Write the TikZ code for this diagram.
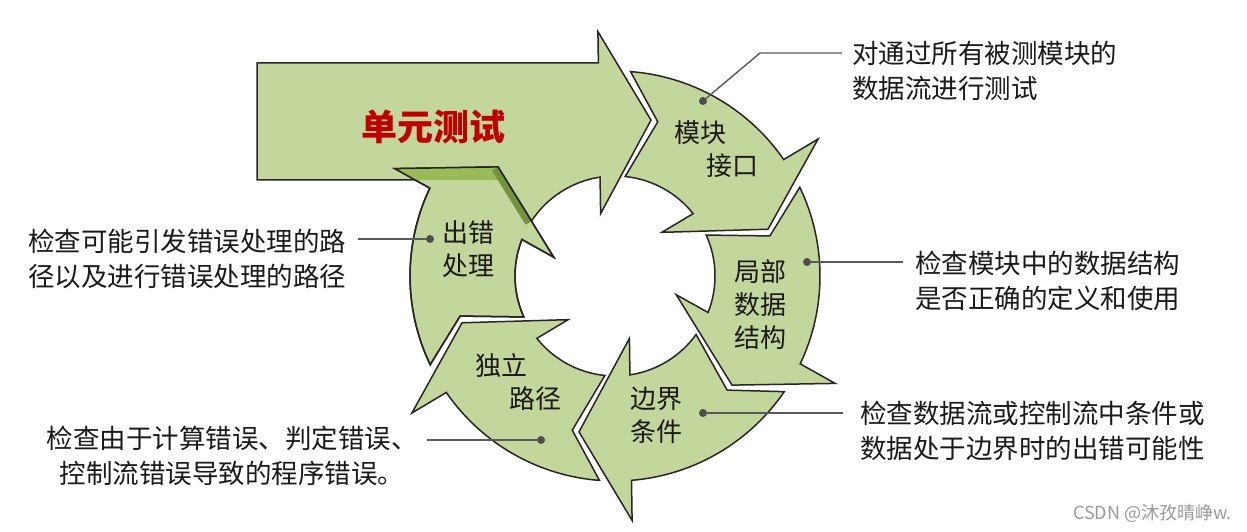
\documentclass[tikz,border=0pt]{standalone}
\usepackage{fontspec}
\setmainfont{Noto Sans CJK SC}
\definecolor{arrowfill}{HTML}{C3D69B}
\definecolor{stripfill}{HTML}{9BBB59}
\definecolor{bandfill}{HTML}{76923C}
\definecolor{outline}{HTML}{262626}
\definecolor{labeltext}{HTML}{1A1A1A}
\definecolor{redtext}{HTML}{C00000}
\definecolor{calloutc}{HTML}{595959}
\definecolor{dotcol}{HTML}{4D4D4D}
\definecolor{wmark}{HTML}{9A9A9A}
\newcommand{\cyclearrowpath}{(51.65:205) arc[start angle=51.65, end angle=0.62, radius=205] -- (0:245) -- (-17:160) -- (9:64) -- (4.59:100) arc[start angle=4.59, end angle=50.18, radius=100] -- (40.5:160) -- cycle}
\begin{document}
\begin{tikzpicture}[x=1pt,y=1pt,
  ringarrow/.style={fill=arrowfill, draw=outline, line width=1.5pt, line join=miter},
  lbl/.style={inner sep=0pt, font=\fontsize{26}{33}\selectfont, align=center, text=labeltext},
  side/.style={inner sep=0pt, font=\fontsize{26.5}{35}\selectfont, text=labeltext},
  callout/.style={draw=calloutc, line width=1.4pt},
  dotc/.style={circle, fill=dotcol, inner sep=0pt, minimum size=8pt}]
\useasboundingbox (0,0) rectangle (1247,531);
\fill[white] (0,0) rectangle (1247,531);
\coordinate (C) at (615,255);
% big arrow
\begin{scope}[shift={(615,255)}]
\draw[ringarrow] (-358,213) -- (-16.63,213) -- (94:245) -- (77:160) -- (103:64) -- (98.59:100)
  arc[start angle=98.59, end angle=146.68, radius=100] -- (137:160) -- (-150,96) -- (-358,96) -- cycle;
\end{scope}
% cycle arrows
\foreach \ang in {34,-26,-86,-146,154}{
  \begin{scope}[shift={(615,255)}, rotate=\ang]
  \draw[ringarrow] \cyclearrowpath;
  \end{scope}
}
% dark strip of the error-handling head over the big arrow
\begin{scope}[shift={(615,255)}, rotate=154]
  \clip \cyclearrowpath;
  \begin{scope}[rotate=-154]
    \fill[stripfill] (-400,96) rectangle (0,300);
    \fill[bandfill] (-117.02,109.12) -- (-83.57,54.93) -- (-89.5,51.3) -- (-123.0,105.4) -- cycle;
  \end{scope}
\end{scope}
\begin{scope}[shift={(615,255)}, rotate=154]
  \draw[draw=outline, line width=1.5pt, line join=miter] \cyclearrowpath;
\end{scope}
% labels
\node[lbl, text=redtext, font=\fontsize{36}{40}\selectfont\bfseries] (unit) at (433,404) {单元测试};
\node[lbl] (mk1) at (700,398) {模块};
\node[lbl] (mk2) at (732,365) {接口};
\node[lbl] (jb) at (760,226) {局部\\数据\\结构};
\node[lbl] (bj) at (656,116) {边界\\条件};
\node[lbl] (dl1) at (501,165) {独立};
\node[lbl] (dl2) at (535,132) {路径};
\node[lbl] (cc) at (468,282) {出错\\处理};
% side texts
\node[side, anchor=west, align=left] (t1) at (852,460.5) {对通过所有被测模块的\\数据流进行测试};
\node[side, anchor=west, align=left] (t2) at (915,250.5) {检查模块中的数据结构\\是否正确的定义和使用};
\node[side, anchor=west, align=left] (t3) at (860,100.5) {检查数据流或控制流中条件或\\数据处于边界时的出错可能性};
\node[side, align=center] (t4) at (232,75) {检查由于计算错误、判定错误、\\控制流错误导致的程序错误。};
\node[side, anchor=west, align=left] (t5) at (28,272.5) {检查可能引发错误处理的路\\径以及进行错误处理的路径};
% callouts
\coordinate (e1a) at (760,478);
\coordinate (e1b) at (842,478);
\coordinate (e2) at (903,269);
\coordinate (e3) at (843,118);
\coordinate (e4) at (427,91);
\coordinate (e5) at (358,292);
\node[dotc] (d1) at (703,430) {};
\node[dotc] (d2) at (807,269) {};
\node[dotc] (d3) at (703,118) {};
\node[dotc] (d4) at (541,91) {};
\node[dotc] (d5) at (430,292) {};
\draw[callout] (d1) -- (e1a) -- (e1b);
\draw[callout] (d2) -- (e2);
\draw[callout] (d3) -- (e3);
\draw[callout] (d4) -- (e4);
\draw[callout] (d5) -- (e5);
% watermark
\node[inner sep=0pt, anchor=east, text=wmark, font=\fontsize{18}{20}\selectfont] (wm) at (1232,18) {CSDN @沐孜晴峥w.};
\end{tikzpicture}
\end{document}
